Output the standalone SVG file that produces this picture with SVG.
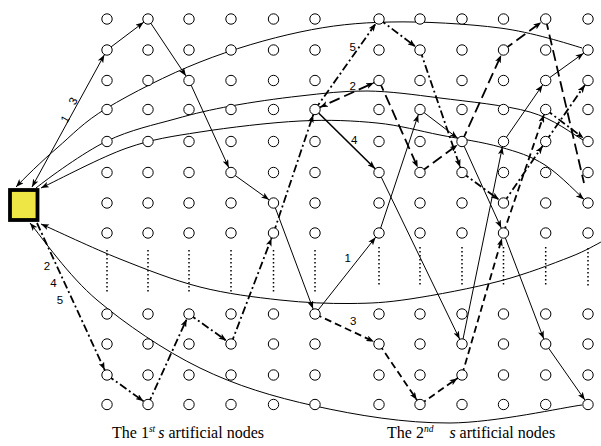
<svg xmlns="http://www.w3.org/2000/svg" width="601" height="446" viewBox="0 0 601 446">
<style>
.o{fill:#fff;stroke:#000;stroke-width:1}
.c{fill:none;stroke:#000;stroke-width:1}
.p2{stroke-width:1.8;stroke-dasharray:11 5}
.p3{stroke-width:1.8;stroke-dasharray:7 4}
.p4{stroke-width:1.6}
.p5{stroke-width:1.8;stroke-dasharray:8 3 2 3}
.dt{stroke:#000;stroke-width:1.5;stroke-dasharray:1.5 2.5}
.lb{font-family:"Liberation Sans",Arial,sans-serif;font-size:11.5px;fill:#000}
.cap{font-family:"Liberation Serif","Times New Roman",serif;font-size:16px;fill:#000}
.sup{font-size:9.5px;font-style:italic}
</style>
<defs>
<marker id="ae" viewBox="0 0 8 6" refX="13.5" refY="3" markerWidth="8" markerHeight="6" markerUnits="userSpaceOnUse" orient="auto"><path d="M0,0L8,3L0,6L2,3z"/></marker>
<marker id="as" viewBox="0 0 8 6" refX="13.5" refY="3" markerWidth="8" markerHeight="6" markerUnits="userSpaceOnUse" orient="auto-start-reverse"><path d="M0,0L8,3L0,6L2,3z"/></marker>
<marker id="se" viewBox="0 0 8 6" refX="8" refY="3" markerWidth="8" markerHeight="6" markerUnits="userSpaceOnUse" orient="auto"><path d="M0,0L8,3L0,6L2,3z"/></marker>
<marker id="ss" viewBox="0 0 8 6" refX="8" refY="3" markerWidth="8" markerHeight="6" markerUnits="userSpaceOnUse" orient="auto-start-reverse"><path d="M0,0L8,3L0,6L2,3z"/></marker>
</defs>
<rect width="601" height="446" fill="#fff"/>
<g id="dots">
<line class="dt" x1="107" y1="250" x2="107" y2="293"/><line class="dt" x1="148" y1="250" x2="148" y2="293"/><line class="dt" x1="189" y1="250" x2="189" y2="293"/><line class="dt" x1="231" y1="250" x2="231" y2="293"/><line class="dt" x1="273.5" y1="250" x2="273.5" y2="293"/><line class="dt" x1="315" y1="250" x2="315" y2="293"/>
<line class="dt" x1="379" y1="247" x2="379" y2="286"/><line class="dt" x1="420" y1="247" x2="420" y2="286"/><line class="dt" x1="462" y1="247" x2="462" y2="286"/><line class="dt" x1="503.5" y1="247" x2="503.5" y2="286"/><line class="dt" x1="545.7" y1="247" x2="545.7" y2="286"/><line class="dt" x1="588" y1="248" x2="588" y2="288"/>
</g>
<g id="connectors">
<path class="c" d="M582,48 C568.3,43.8 532,32.2 500,28 C468,23.8 423.3,21.3 390,22 C356.7,22.7 331.7,25.3 300,32 C268.3,38.7 232.2,49.3 200,62 C167.8,74.7 130.8,93.7 107,108 C83.2,122.3 72.2,135 57,148 C41.8,161 22.8,179.7 16,187" marker-end="url(#se)"/>
<path class="c" d="M583,140 C573.3,134.5 553.7,118.8 530,112 C506.3,105.2 467.2,101.5 440,98 C412.8,94.5 390.3,91.3 367,91 C343.7,90.7 322.7,93.5 300,96 C277.3,98.5 251.8,102.2 231,106 C210.2,109.8 195.7,113.2 175,119 C154.3,124.8 130.2,129.8 107,141 C83.8,152.2 47.8,178.5 36,188"/>
<path class="c" d="M41,188 C58.7,179.7 101.2,157 127,148 C152.8,139 171.2,136.5 200,132 C228.8,127.5 270.5,122.5 300,121 C329.5,119.5 353.7,120.7 377,123 C400.3,125.3 419.5,131 440,135 C460.5,139 482.5,142 500,147 C517.5,152 530.3,155.7 545,165 C559.7,174.3 580.8,196.7 588,203" marker-start="url(#ss)" marker-end="url(#ae)"/>
<path class="c" d="M603,241 C595.8,244.5 586.8,250.5 570,257 C553.2,263.5 526.7,274 500,281 C473.3,288 435,295.25 410,299 C385,302.75 371.7,303.3 350,303.5 C328.3,303.7 305,302.75 280,300 C255,297.25 226.7,293.8 200,287 C173.3,280.2 146.5,269.5 120,259 C93.5,248.5 54.2,229.8 41,224" marker-end="url(#se)"/>
<path class="c" d="M582,405 C564.2,407.2 495.3,422.7 450,423 C404.7,423.3 356.7,415.2 315,406 C273.3,396.8 236.3,385.7 200,368 C163.7,350.3 125.2,323.8 97,300 C68.8,276.2 42,237.5 30,223" marker-end="url(#se)"/>
<path class="c" d="M32,187 L107,50" marker-start="url(#ss)" marker-end="url(#ae)"/>
<line class="c" x1="107" y1="50" x2="148" y2="19" marker-end="url(#ae)"/>
<line class="c" x1="148" y1="19" x2="189" y2="80.5" marker-end="url(#ae)"/>
<line class="c" x1="189" y1="80.5" x2="231" y2="172.5" marker-end="url(#ae)"/>
<line class="c" x1="231" y1="172.5" x2="273.5" y2="203" marker-end="url(#ae)"/>
<line class="c" x1="273.5" y1="203" x2="315" y2="314" marker-end="url(#ae)"/>
<line class="c" x1="315" y1="314" x2="379" y2="233" marker-end="url(#ae)"/>
<line class="c" x1="379" y1="233" x2="420" y2="109.5" marker-end="url(#ae)"/>
<line class="c" x1="420" y1="109.5" x2="462" y2="141.5" marker-end="url(#ae)"/>
<line class="c" x1="462" y1="141.5" x2="503.5" y2="233" marker-end="url(#ae)"/>
<line class="c" x1="503.5" y1="233" x2="545.7" y2="344" marker-end="url(#ae)"/>
<line class="c" x1="545.7" y1="344" x2="588" y2="404.5" marker-end="url(#ae)"/>
<line class="c p4" x1="315" y1="109.5" x2="379" y2="172.5" marker-end="url(#ae)"/>
<line class="c" x1="379" y1="172.5" x2="462" y2="344" marker-end="url(#ae)"/>
<line class="c" x1="462" y1="344" x2="503.5" y2="141.5" marker-end="url(#ae)"/>
<line class="c" x1="503.5" y1="141.5" x2="545.7" y2="80.5" marker-end="url(#ae)"/>
<line class="c" x1="545.7" y1="80.5" x2="588" y2="50" marker-end="url(#ae)"/>
<path class="c p2" d="M315,109.5 L379,80.5" marker-start="url(#as)" marker-end="url(#ae)"/>
<line class="c p2" x1="379" y1="80.5" x2="420" y2="172.5" marker-end="url(#ae)"/>
<line class="c p2" x1="420" y1="172.5" x2="462" y2="141.5" marker-end="url(#ae)"/>
<line class="c p2" x1="462" y1="141.5" x2="503.5" y2="50" marker-end="url(#ae)"/>
<line class="c p2" x1="503.5" y1="50" x2="545.7" y2="19" marker-end="url(#ae)"/>
<line class="c p2" x1="545.7" y1="19" x2="584" y2="183"/>
<line class="c p3" x1="315" y1="314" x2="379" y2="344" marker-end="url(#ae)"/>
<line class="c p3" x1="379" y1="344" x2="420" y2="404.5" marker-end="url(#ae)"/>
<line class="c p3" x1="420" y1="404.5" x2="462" y2="375" marker-end="url(#ae)"/>
<line class="c p3" x1="462" y1="375" x2="503.5" y2="233" marker-end="url(#ae)"/>
<line class="c p3" x1="503.5" y1="233" x2="545.7" y2="109.5" marker-end="url(#ae)"/>
<line class="c p5" x1="37" y1="223" x2="107" y2="375" marker-end="url(#ae)"/>
<line class="c p5" x1="107" y1="375" x2="148" y2="404.5" marker-end="url(#ae)"/>
<line class="c p5" x1="148" y1="404.5" x2="189" y2="314" marker-end="url(#ae)"/>
<line class="c p5" x1="189" y1="314" x2="231" y2="344" marker-end="url(#ae)"/>
<line class="c p5" x1="231" y1="344" x2="273.5" y2="233" marker-end="url(#ae)"/>
<line class="c p5" x1="273.5" y1="233" x2="315" y2="109.5" marker-end="url(#ae)"/>
<line class="c p5" x1="315" y1="109.5" x2="379" y2="19" marker-end="url(#ae)"/>
<line class="c p5" x1="379" y1="19" x2="420" y2="50" marker-end="url(#ae)"/>
<line class="c p5" x1="420" y1="50" x2="462" y2="172.5" marker-end="url(#ae)"/>
<line class="c p5" x1="462" y1="172.5" x2="503.5" y2="203" marker-end="url(#ae)"/>
<line class="c p5" x1="503.5" y1="203" x2="545.7" y2="141.5" marker-end="url(#ae)"/>
<line class="c p5" x1="545.7" y1="141.5" x2="588" y2="80.5" marker-end="url(#ae)"/>
<line class="c p5" x1="545.7" y1="109.5" x2="588" y2="141.5" marker-end="url(#ae)"/>
</g>
<g id="depot"><rect x="10" y="190" width="27.5" height="30" fill="#EEE645" stroke="#000" stroke-width="3.8"/></g>
<g id="nodes">
<g id="n1_1"><circle class="o" cx="107" cy="19" r="5.2"/></g><g id="n1_2"><circle class="o" cx="148" cy="19" r="5.2"/></g><g id="n1_3"><circle class="o" cx="189" cy="19" r="5.2"/></g><g id="n1_4"><circle class="o" cx="231" cy="19" r="5.2"/></g><g id="n1_5"><circle class="o" cx="273.5" cy="19" r="5.2"/></g><g id="n1_6"><circle class="o" cx="315" cy="19" r="5.2"/></g><g id="n1_7"><circle class="o" cx="379" cy="19" r="5.2"/></g><g id="n1_8"><circle class="o" cx="420" cy="19" r="5.2"/></g><g id="n1_9"><circle class="o" cx="462" cy="19" r="5.2"/></g><g id="n1_10"><circle class="o" cx="503.5" cy="19" r="5.2"/></g><g id="n1_11"><circle class="o" cx="545.7" cy="19" r="5.2"/></g><g id="n1_12"><circle class="o" cx="588" cy="19" r="5.2"/></g>
<g id="n2_1"><circle class="o" cx="107" cy="50" r="5.2"/></g><g id="n2_2"><circle class="o" cx="148" cy="50" r="5.2"/></g><g id="n2_3"><circle class="o" cx="189" cy="50" r="5.2"/></g><g id="n2_4"><circle class="o" cx="231" cy="50" r="5.2"/></g><g id="n2_5"><circle class="o" cx="273.5" cy="50" r="5.2"/></g><g id="n2_6"><circle class="o" cx="315" cy="50" r="5.2"/></g><g id="n2_7"><circle class="o" cx="379" cy="50" r="5.2"/></g><g id="n2_8"><circle class="o" cx="420" cy="50" r="5.2"/></g><g id="n2_9"><circle class="o" cx="462" cy="50" r="5.2"/></g><g id="n2_10"><circle class="o" cx="503.5" cy="50" r="5.2"/></g><g id="n2_11"><circle class="o" cx="545.7" cy="50" r="5.2"/></g><g id="n2_12"><circle class="o" cx="588" cy="50" r="5.2"/></g>
<g id="n3_1"><circle class="o" cx="107" cy="80.5" r="5.2"/></g><g id="n3_2"><circle class="o" cx="148" cy="80.5" r="5.2"/></g><g id="n3_3"><circle class="o" cx="189" cy="80.5" r="5.2"/></g><g id="n3_4"><circle class="o" cx="231" cy="80.5" r="5.2"/></g><g id="n3_5"><circle class="o" cx="273.5" cy="80.5" r="5.2"/></g><g id="n3_6"><circle class="o" cx="315" cy="80.5" r="5.2"/></g><g id="n3_7"><circle class="o" cx="379" cy="80.5" r="5.2"/></g><g id="n3_8"><circle class="o" cx="420" cy="80.5" r="5.2"/></g><g id="n3_9"><circle class="o" cx="462" cy="80.5" r="5.2"/></g><g id="n3_10"><circle class="o" cx="503.5" cy="80.5" r="5.2"/></g><g id="n3_11"><circle class="o" cx="545.7" cy="80.5" r="5.2"/></g><g id="n3_12"><circle class="o" cx="588" cy="80.5" r="5.2"/></g>
<g id="n4_1"><circle class="o" cx="107" cy="109.5" r="5.2"/></g><g id="n4_2"><circle class="o" cx="148" cy="109.5" r="5.2"/></g><g id="n4_3"><circle class="o" cx="189" cy="109.5" r="5.2"/></g><g id="n4_4"><circle class="o" cx="231" cy="109.5" r="5.2"/></g><g id="n4_5"><circle class="o" cx="273.5" cy="109.5" r="5.2"/></g><g id="n4_6"><circle class="o" cx="315" cy="109.5" r="5.2"/></g><g id="n4_7"><circle class="o" cx="379" cy="109.5" r="5.2"/></g><g id="n4_8"><circle class="o" cx="420" cy="109.5" r="5.2"/></g><g id="n4_9"><circle class="o" cx="462" cy="109.5" r="5.2"/></g><g id="n4_10"><circle class="o" cx="503.5" cy="109.5" r="5.2"/></g><g id="n4_11"><circle class="o" cx="545.7" cy="109.5" r="5.2"/></g><g id="n4_12"><circle class="o" cx="588" cy="109.5" r="5.2"/></g>
<g id="n5_1"><circle class="o" cx="107" cy="141.5" r="5.2"/></g><g id="n5_2"><circle class="o" cx="148" cy="141.5" r="5.2"/></g><g id="n5_3"><circle class="o" cx="189" cy="141.5" r="5.2"/></g><g id="n5_4"><circle class="o" cx="231" cy="141.5" r="5.2"/></g><g id="n5_5"><circle class="o" cx="273.5" cy="141.5" r="5.2"/></g><g id="n5_6"><circle class="o" cx="315" cy="141.5" r="5.2"/></g><g id="n5_7"><circle class="o" cx="379" cy="141.5" r="5.2"/></g><g id="n5_8"><circle class="o" cx="420" cy="141.5" r="5.2"/></g><g id="n5_9"><circle class="o" cx="462" cy="141.5" r="5.2"/></g><g id="n5_10"><circle class="o" cx="503.5" cy="141.5" r="5.2"/></g><g id="n5_11"><circle class="o" cx="545.7" cy="141.5" r="5.2"/></g><g id="n5_12"><circle class="o" cx="588" cy="141.5" r="5.2"/></g>
<g id="n6_1"><circle class="o" cx="107" cy="172.5" r="5.2"/></g><g id="n6_2"><circle class="o" cx="148" cy="172.5" r="5.2"/></g><g id="n6_3"><circle class="o" cx="189" cy="172.5" r="5.2"/></g><g id="n6_4"><circle class="o" cx="231" cy="172.5" r="5.2"/></g><g id="n6_5"><circle class="o" cx="273.5" cy="172.5" r="5.2"/></g><g id="n6_6"><circle class="o" cx="315" cy="172.5" r="5.2"/></g><g id="n6_7"><circle class="o" cx="379" cy="172.5" r="5.2"/></g><g id="n6_8"><circle class="o" cx="420" cy="172.5" r="5.2"/></g><g id="n6_9"><circle class="o" cx="462" cy="172.5" r="5.2"/></g><g id="n6_10"><circle class="o" cx="503.5" cy="172.5" r="5.2"/></g><g id="n6_11"><circle class="o" cx="545.7" cy="172.5" r="5.2"/></g><g id="n6_12"><circle class="o" cx="588" cy="172.5" r="5.2"/></g>
<g id="n7_1"><circle class="o" cx="107" cy="203" r="5.2"/></g><g id="n7_2"><circle class="o" cx="148" cy="203" r="5.2"/></g><g id="n7_3"><circle class="o" cx="189" cy="203" r="5.2"/></g><g id="n7_4"><circle class="o" cx="231" cy="203" r="5.2"/></g><g id="n7_5"><circle class="o" cx="273.5" cy="203" r="5.2"/></g><g id="n7_6"><circle class="o" cx="315" cy="203" r="5.2"/></g><g id="n7_7"><circle class="o" cx="379" cy="203" r="5.2"/></g><g id="n7_8"><circle class="o" cx="420" cy="203" r="5.2"/></g><g id="n7_9"><circle class="o" cx="462" cy="203" r="5.2"/></g><g id="n7_10"><circle class="o" cx="503.5" cy="203" r="5.2"/></g><g id="n7_11"><circle class="o" cx="545.7" cy="203" r="5.2"/></g><g id="n7_12"><circle class="o" cx="588" cy="203" r="5.2"/></g>
<g id="n8_1"><circle class="o" cx="107" cy="233" r="5.2"/></g><g id="n8_2"><circle class="o" cx="148" cy="233" r="5.2"/></g><g id="n8_3"><circle class="o" cx="189" cy="233" r="5.2"/></g><g id="n8_4"><circle class="o" cx="231" cy="233" r="5.2"/></g><g id="n8_5"><circle class="o" cx="273.5" cy="233" r="5.2"/></g><g id="n8_6"><circle class="o" cx="315" cy="233" r="5.2"/></g><g id="n8_7"><circle class="o" cx="379" cy="233" r="5.2"/></g><g id="n8_8"><circle class="o" cx="420" cy="233" r="5.2"/></g><g id="n8_9"><circle class="o" cx="462" cy="233" r="5.2"/></g><g id="n8_10"><circle class="o" cx="503.5" cy="233" r="5.2"/></g><g id="n8_11"><circle class="o" cx="545.7" cy="233" r="5.2"/></g><g id="n8_12"><circle class="o" cx="588" cy="233" r="5.2"/></g>
<g id="n9_1"><circle class="o" cx="107" cy="314" r="5.2"/></g><g id="n9_2"><circle class="o" cx="148" cy="314" r="5.2"/></g><g id="n9_3"><circle class="o" cx="189" cy="314" r="5.2"/></g><g id="n9_4"><circle class="o" cx="231" cy="314" r="5.2"/></g><g id="n9_5"><circle class="o" cx="273.5" cy="314" r="5.2"/></g><g id="n9_6"><circle class="o" cx="315" cy="314" r="5.2"/></g><g id="n9_7"><circle class="o" cx="379" cy="314" r="5.2"/></g><g id="n9_8"><circle class="o" cx="420" cy="314" r="5.2"/></g><g id="n9_9"><circle class="o" cx="462" cy="314" r="5.2"/></g><g id="n9_10"><circle class="o" cx="503.5" cy="314" r="5.2"/></g><g id="n9_11"><circle class="o" cx="545.7" cy="314" r="5.2"/></g><g id="n9_12"><circle class="o" cx="588" cy="314" r="5.2"/></g>
<g id="n10_1"><circle class="o" cx="107" cy="344" r="5.2"/></g><g id="n10_2"><circle class="o" cx="148" cy="344" r="5.2"/></g><g id="n10_3"><circle class="o" cx="189" cy="344" r="5.2"/></g><g id="n10_4"><circle class="o" cx="231" cy="344" r="5.2"/></g><g id="n10_5"><circle class="o" cx="273.5" cy="344" r="5.2"/></g><g id="n10_6"><circle class="o" cx="315" cy="344" r="5.2"/></g><g id="n10_7"><circle class="o" cx="379" cy="344" r="5.2"/></g><g id="n10_8"><circle class="o" cx="420" cy="344" r="5.2"/></g><g id="n10_9"><circle class="o" cx="462" cy="344" r="5.2"/></g><g id="n10_10"><circle class="o" cx="503.5" cy="344" r="5.2"/></g><g id="n10_11"><circle class="o" cx="545.7" cy="344" r="5.2"/></g><g id="n10_12"><circle class="o" cx="588" cy="344" r="5.2"/></g>
<g id="n11_1"><circle class="o" cx="107" cy="375" r="5.2"/></g><g id="n11_2"><circle class="o" cx="148" cy="375" r="5.2"/></g><g id="n11_3"><circle class="o" cx="189" cy="375" r="5.2"/></g><g id="n11_4"><circle class="o" cx="231" cy="375" r="5.2"/></g><g id="n11_5"><circle class="o" cx="273.5" cy="375" r="5.2"/></g><g id="n11_6"><circle class="o" cx="315" cy="375" r="5.2"/></g><g id="n11_7"><circle class="o" cx="379" cy="375" r="5.2"/></g><g id="n11_8"><circle class="o" cx="420" cy="375" r="5.2"/></g><g id="n11_9"><circle class="o" cx="462" cy="375" r="5.2"/></g><g id="n11_10"><circle class="o" cx="503.5" cy="375" r="5.2"/></g><g id="n11_11"><circle class="o" cx="545.7" cy="375" r="5.2"/></g><g id="n11_12"><circle class="o" cx="588" cy="375" r="5.2"/></g>
<g id="n12_1"><circle class="o" cx="107" cy="404.5" r="5.2"/></g><g id="n12_2"><circle class="o" cx="148" cy="404.5" r="5.2"/></g><g id="n12_3"><circle class="o" cx="189" cy="404.5" r="5.2"/></g><g id="n12_4"><circle class="o" cx="231" cy="404.5" r="5.2"/></g><g id="n12_5"><circle class="o" cx="273.5" cy="404.5" r="5.2"/></g><g id="n12_6"><circle class="o" cx="315" cy="404.5" r="5.2"/></g><g id="n12_7"><circle class="o" cx="379" cy="404.5" r="5.2"/></g><g id="n12_8"><circle class="o" cx="420" cy="404.5" r="5.2"/></g><g id="n12_9"><circle class="o" cx="462" cy="404.5" r="5.2"/></g><g id="n12_10"><circle class="o" cx="503.5" cy="404.5" r="5.2"/></g><g id="n12_11"><circle class="o" cx="545.7" cy="404.5" r="5.2"/></g><g id="n12_12"><circle class="o" cx="588" cy="404.5" r="5.2"/></g>
</g>
<g id="labels">
<text class="lb" transform="translate(65,119) rotate(-61)" y="4" text-anchor="middle">1</text>
<text class="lb" transform="translate(73,101) rotate(-61)" y="4" text-anchor="middle">3</text>
<text class="lb" x="47" y="270" text-anchor="middle">2</text>
<text class="lb" x="53.5" y="287" text-anchor="middle">4</text>
<text class="lb" x="60" y="304" text-anchor="middle">5</text>
<text class="lb" x="352.7" y="50.7" text-anchor="middle">5</text>
<text class="lb" x="352.7" y="89.5" text-anchor="middle">2</text>
<text class="lb" x="354.3" y="144" text-anchor="middle">4</text>
<text class="lb" x="347.7" y="262.3" text-anchor="middle">1</text>
<text class="lb" x="353.3" y="324.7" text-anchor="middle">3</text>
<text class="cap" x="112" y="438">The 1<tspan class="sup" dy="-6">st</tspan><tspan dy="6" dx="3" font-style="italic">s</tspan> artificial nodes</text>
<text class="cap" x="387" y="438">The 2<tspan class="sup" dy="-6">nd</tspan><tspan dy="6" dx="16" font-style="italic">s</tspan> artificial nodes</text>
</g>
</svg>
